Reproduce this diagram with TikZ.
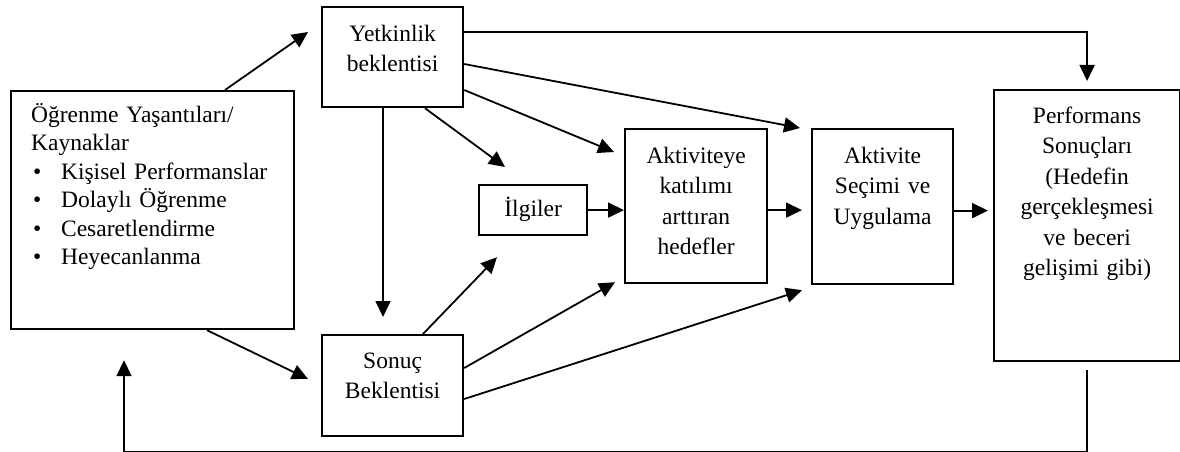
\documentclass[tikz,border=0pt]{standalone}
\usepackage{fontspec}
\setmainfont{Liberation Serif}
\usetikzlibrary{arrows.meta, calc}

\begin{document}
\begin{tikzpicture}[x=1pt, y=-1pt,
        every node/.style={draw, line width=2.2pt, inner sep=0pt, anchor=north west, align=center,
            font=\fontsize{23.5}{30.5}\selectfont},
        ok/.style={line width=1.8pt, -{Triangle[length=16pt, width=15pt]}}
    ]
        \useasboundingbox (0,0) rectangle (1180,452);

        % Kutular
        \node [text width=243pt, inner xsep=20pt, align=left, text height=31pt, text depth=207pt,
            font=\fontsize{23.5}{28.5}\selectfont] (ogr) at (10,90)
            {Öğrenme Yaşantıları/\\ Kaynaklar\\
             \hspace*{2pt}\makebox[28pt][l]{\textbullet}Kişisel Performanslar\\
             \hspace*{2pt}\makebox[28pt][l]{\textbullet}Dolaylı Öğrenme\\
             \hspace*{2pt}\makebox[28pt][l]{\textbullet}Cesaretlendirme\\
             \hspace*{2pt}\makebox[28pt][l]{\textbullet}Heyecanlanma};
        \node [text width=141pt, text height=34pt, text depth=66pt] (yet) at (321,6) {Yetkinlik\\ beklentisi};
        \node [text width=108pt, text height=31pt, text depth=19pt] (ilg) at (478,184) {İlgiler};
        \node [text width=142pt, text height=34pt, text depth=120pt] (akt) at (624,128) {Aktiviteye\\ katılımı\\ arttıran\\ hedefler};
        \node [text width=141pt, text height=33pt, text depth=68pt] (son) at (321,334) {Sonuç\\ Beklentisi};
        \node [text width=141pt, text height=34pt, text depth=121pt] (sec) at (811,128) {Aktivite\\ Seçimi ve\\ Uygulama};
        \node [text width=186pt, text height=33pt, text depth=238pt] (per) at (993,89) {Performans\\ Sonuçları\\ (Hedefin\\ gerçekleşmesi\\ ve beceri\\ gelişimi gibi)};

        % Oklar
        \draw[ok] ($(ogr.north west)+(215,0)$) -- ($(yet.north west)+(-13,26)$);
        \draw[ok] ($(ogr.south west)+(197,0)$) -- ($(son.north west)+(-13,45)$);
        \draw[ok] ($(yet.south west)+(62,0)$) -- ($(son.north west)+(62,-17)$);
        \draw[ok] ($(yet.south west)+(104,0)$) -- ($(ilg.north west)+(27,-17)$);
        \draw[ok] ($(yet.north east)+(0,84)$) -- ($(akt.north west)+(-10,24)$);
        \draw[ok] ($(yet.north east)+(0,58)$) -- ($(sec.north west)+(-11,0)$);
        \draw[ok] ($(yet.north east)+(0,26)$) -| ($(per.north)+(0,-8)$);
        \draw[ok] (ilg.east) -- (ilg.east -| akt.west);
        \draw[ok] ($(akt.east)+(0,4)$) -- ($(akt.east -| sec.west)+(-9,4)$);
        \draw[ok] ($(sec.east)+(0,4)$) -- ($(sec.east -| per.west)+(-5,4)$);
        \draw[ok] ($(son.north west)+(102,0)$) -- ($(ilg.south west)+(19,21)$);
        \draw[ok] ($(son.north east)+(0,34)$) -- ($(akt.south west)+(-9,-2)$);
        \draw[ok] ($(son.north east)+(0,65)$) -- ($(sec.south west)+(-9,5)$);
        \draw[ok] ($(per.south)+(0,8)$) -- ++(0,82) -| ($(ogr.south west)+(114,30)$);
    \end{tikzpicture}
\end{document}
